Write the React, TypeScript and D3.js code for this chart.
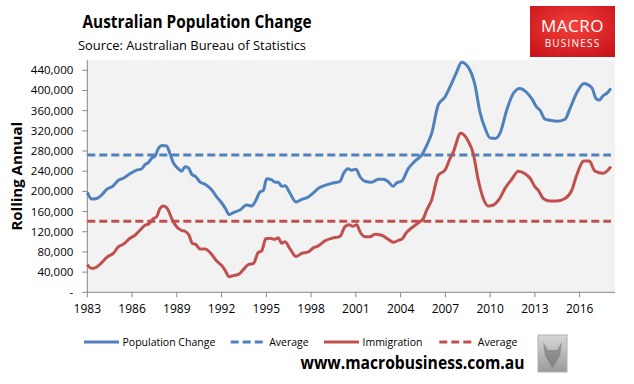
import React from 'react';
import * as d3 from 'd3';

// rolling annual population change (year, persons)
const popYears = [1983.0, 1983.29, 1983.63, 1983.97, 1984.3, 1984.74, 1985.08, 1985.41, 1985.86, 1986.31, 1986.65, 1986.87, 1987.09, 1987.32, 1987.54, 1987.76, 1988.03, 1988.32, 1988.54, 1988.76, 1989.1, 1989.33, 1989.55, 1989.77, 1990.0, 1990.27, 1990.55, 1990.89, 1991.34, 1991.67, 1992.01, 1992.28, 1992.5, 1992.79, 1993.23, 1993.68, 1994.02, 1994.24, 1994.58, 1994.8, 1995.02, 1995.36, 1995.58, 1995.8, 1996.03, 1996.25, 1996.59, 1996.99, 1997.37, 1997.81, 1998.15, 1998.48, 1998.93, 1999.38, 1999.94, 2000.16, 2000.49, 2000.72, 2001.01, 2001.28, 2001.61, 2002.06, 2002.5, 2002.84, 2003.17, 2003.51, 2003.74, 2004.07, 2004.51, 2004.96, 2005.41, 2005.75, 2006.08, 2006.53, 2006.97, 2007.31, 2007.76, 2008.09, 2008.65, 2008.99, 2009.32, 2009.66, 2009.99, 2010.33, 2010.66, 2011.11, 2011.55, 2012.0, 2012.45, 2012.79, 2013.12, 2013.34, 2013.68, 2014.01, 2014.46, 2015.02, 2015.35, 2015.8, 2016.29, 2016.81, 2017.1, 2017.32, 2017.58, 2017.81, 2018.1];
const popValues = [198000, 185000, 186000, 193000, 204000, 211000, 222000, 226000, 235000, 242000, 245000, 253000, 257000, 266000, 270000, 285000, 291000, 290000, 275000, 257000, 245000, 240000, 249000, 247000, 234000, 229000, 219000, 214000, 203000, 189000, 177000, 165000, 154000, 158000, 163000, 173000, 171000, 179000, 199000, 202000, 225000, 223000, 218000, 218000, 210000, 211000, 196000, 179000, 184000, 189000, 197000, 206000, 212000, 216000, 220000, 235000, 245000, 242000, 244000, 229000, 220000, 218000, 224000, 224000, 219000, 210000, 217000, 220000, 245000, 260000, 272000, 291000, 315000, 372000, 387000, 407000, 437000, 456000, 440000, 410000, 357000, 325000, 306000, 305000, 315000, 361000, 394000, 404000, 396000, 384000, 367000, 361000, 343000, 341000, 339000, 343000, 364000, 395000, 414000, 406000, 384000, 381000, 390000, 394000, 404000];

// rolling annual net overseas migration
const immYears = [1983.0, 1983.29, 1983.56, 1983.97, 1984.34, 1984.74, 1985.08, 1985.41, 1985.86, 1986.2, 1986.53, 1986.87, 1987.14, 1987.42, 1987.65, 1987.87, 1988.09, 1988.39, 1988.66, 1988.88, 1989.28, 1989.55, 1989.82, 1990.04, 1990.27, 1990.55, 1990.89, 1991.29, 1991.67, 1992.01, 1992.23, 1992.5, 1992.79, 1993.17, 1993.46, 1993.79, 1994.13, 1994.46, 1994.69, 1994.96, 1995.25, 1995.58, 1995.8, 1996.03, 1996.25, 1996.59, 1996.99, 1997.37, 1997.81, 1998.15, 1998.48, 1998.93, 1999.38, 1999.94, 2000.27, 2000.56, 2000.79, 2001.06, 2001.28, 2001.61, 2001.95, 2002.28, 2002.73, 2003.17, 2003.51, 2003.84, 2004.07, 2004.41, 2004.85, 2005.3, 2005.52, 2005.75, 2006.08, 2006.53, 2006.97, 2007.31, 2007.53, 2008.03, 2008.54, 2008.87, 2009.21, 2009.54, 2009.88, 2010.21, 2010.66, 2011.0, 2011.45, 2011.89, 2012.34, 2012.68, 2013.01, 2013.23, 2013.56, 2014.01, 2014.46, 2015.02, 2015.47, 2015.8, 2016.29, 2016.65, 2017.03, 2017.58, 2018.1];
const immValues = [55000, 47500, 49000, 59000, 70000, 77000, 90000, 95000, 107000, 113000, 123000, 133000, 136000, 146000, 150000, 166000, 171000, 165000, 146000, 134000, 123000, 121000, 113000, 97000, 95000, 86000, 86000, 77000, 62000, 53000, 44000, 31000, 33000, 36000, 45000, 55000, 57000, 79000, 82000, 106000, 107000, 105000, 108000, 97000, 100000, 86000, 71000, 77000, 80000, 88000, 92000, 102000, 107000, 111000, 130000, 134000, 131000, 134000, 120000, 110000, 110000, 115000, 113000, 105000, 99000, 103000, 105000, 119000, 130000, 140000, 146000, 163000, 183000, 232000, 242000, 265000, 278000, 315000, 299000, 275000, 222000, 186000, 171000, 173000, 187000, 206000, 224000, 240000, 235000, 226000, 209000, 202000, 186000, 181000, 181000, 186000, 202000, 232000, 260000, 260000, 240000, 236000, 249000];

const popAverage = 272000;
const immAverage = 141000;

const xTicks = [1983, 1986, 1989, 1992, 1995, 1998, 2001, 2004, 2007, 2010, 2013, 2016];
const yTicks = [0, 40000, 80000, 120000, 160000, 200000, 240000, 280000, 320000, 360000, 400000, 440000];

const legendItems = [
  { label: 'Population Change', color: '#4F81BD', dashed: false },
  { label: 'Average', color: '#4F81BD', dashed: true },
  { label: 'Immigration', color: '#C0504D', dashed: false },
  { label: 'Average', color: '#C0504D', dashed: true },
];

const W = 634;
const H = 384;
const font = "'Open Sans', sans-serif";

export default function App() {
  const x = d3.scaleLinear().domain([1983, 2018.37]).range([87.3, 615]);
  const y = d3.scaleLinear().domain([0, 460000]).range([292.3, 60.2]);
  const line = d3.line<[number, number]>()
    .x(d => x(d[0]))
    .y(d => y(d[1]))
    .curve(d3.curveMonotoneX);

  const pop = popYears.map((yr, i) => [yr, popValues[i]] as [number, number]);
  const imm = immYears.map((yr, i) => [yr, immValues[i]] as [number, number]);
  const fmt = d3.format(',');
  const [x0, x1] = x.range();
  const [y0, y1] = y.range();

  // legend columns
  const legendX = [84, 230.7, 324, 439.3];

  return (
    <svg width={W} height={H} style={{ position: 'absolute', left: 0, top: 0, background: '#fff' }}>
      <defs>
        <radialGradient id='logoGrad' cx='50%' cy='40%' r='70%'>
          <stop offset='0%' stopColor='#f4413a' />
          <stop offset='100%' stopColor='#c9141b' />
        </radialGradient>
        <linearGradient id='wolfGrad' x1='0' y1='0' x2='0' y2='1'>
          <stop offset='0%' stopColor='#d8d8d8' />
          <stop offset='100%' stopColor='#9a9a9a' />
        </linearGradient>
      </defs>

      {/* titles */}
      <text x={82.5} y={28} fontFamily={font} fontWeight='bold' fontSize={18} fill='#000' textLength={229} lengthAdjust='spacingAndGlyphs'>Australian Population Change</text>
      <text x={78} y={50} fontFamily={font} fontSize={12.5} fill='#000' textLength={228} lengthAdjust='spacingAndGlyphs'>Source: Australian Bureau of Statistics</text>

      {/* logo */}
      <rect x={530} y={6} width={85} height={51} fill='url(#logoGrad)' />
      <text x={572.5} y={31.5} textAnchor='middle' fontFamily={font} fontSize={17} fill='#fff' letterSpacing={0.5}>MACRO</text>
      <text x={572.5} y={46.5} textAnchor='middle' fontFamily={font} fontSize={10} fill='#fff' letterSpacing={1.2}>BUSINESS</text>

      {/* plot area */}
      <rect x={x0} y={y1} width={x1 - x0} height={y0 - y1} fill='#F2F2F2' />

      {/* y axis */}
      <line x1={x0} x2={x0} y1={y1} y2={y0} stroke='#868686' />
      {yTicks.map(t => (
        <g key={t}>
          <line x1={x0 - 5} x2={x0} y1={y(t)} y2={y(t)} stroke='#868686' />
          <text x={x0 - 14} y={y(t)} dy='0.35em' textAnchor='end' fontFamily={font} fontSize={11.5} fill='#000'>
            {t === 0 ? '-' : fmt(t)}
          </text>
        </g>
      ))}
      <text transform={`translate(22 ${(y0 + y1) / 2}) rotate(-90)`} textAnchor='middle' fontFamily={font} fontWeight='bold' fontSize={15} fill='#000'>Rolling Annual</text>

      {/* x axis */}
      <line x1={x0} x2={x1} y1={y0} y2={y0} stroke='#868686' />
      {xTicks.map(t => (
        <g key={t}>
          <line x1={x(t)} x2={x(t)} y1={y0} y2={y0 + 5} stroke='#868686' />
          <text x={x(t)} y={y0 + 21} textAnchor='middle' fontFamily={font} fontSize={12} fill='#000'>{t}</text>
        </g>
      ))}

      {/* averages */}
      <line x1={x(1983)} x2={x(2018.1)} y1={y(popAverage)} y2={y(popAverage)} stroke='#4F81BD' strokeWidth={3} strokeDasharray='8 4' />
      <line x1={x(1983)} x2={x(2018.1)} y1={y(immAverage)} y2={y(immAverage)} stroke='#C0504D' strokeWidth={3} strokeDasharray='8 4' />

      {/* series */}
      <path d={line(pop) || ''} fill='none' stroke='#4F81BD' strokeWidth={3} strokeLinejoin='round' />
      <path d={line(imm) || ''} fill='none' stroke='#C0504D' strokeWidth={3} strokeLinejoin='round' />

      {/* legend */}
      {legendItems.map((it, i) => (
        <g key={i} transform={`translate(${legendX[i]} 342)`}>
          <line x1={0} x2={35} y1={0} y2={0} stroke={it.color} strokeWidth={3} strokeDasharray={it.dashed ? '8 4' : undefined} />
          <text x={38.5} y={0} dy='0.35em' fontFamily={font} fontSize={10.5} fill='#000'>{it.label}</text>
        </g>
      ))}

      <text x={300.5} y={369} fontFamily={font} fontWeight='bold' fontSize={17} fill='#000' textLength={224} lengthAdjust='spacingAndGlyphs'>www.macrobusiness.com.au</text>

      {/* wolf badge */}
      <rect x={538} y={335} width={29} height={37} fill='url(#wolfGrad)' stroke='#b0b0b0' />
      <path d='M543 342 L548 350 L557 350 L562 342 L560 356 L552.5 368 L545 356 Z' fill='#6f6f6f' opacity={0.6} />
    </svg>
  );
}
